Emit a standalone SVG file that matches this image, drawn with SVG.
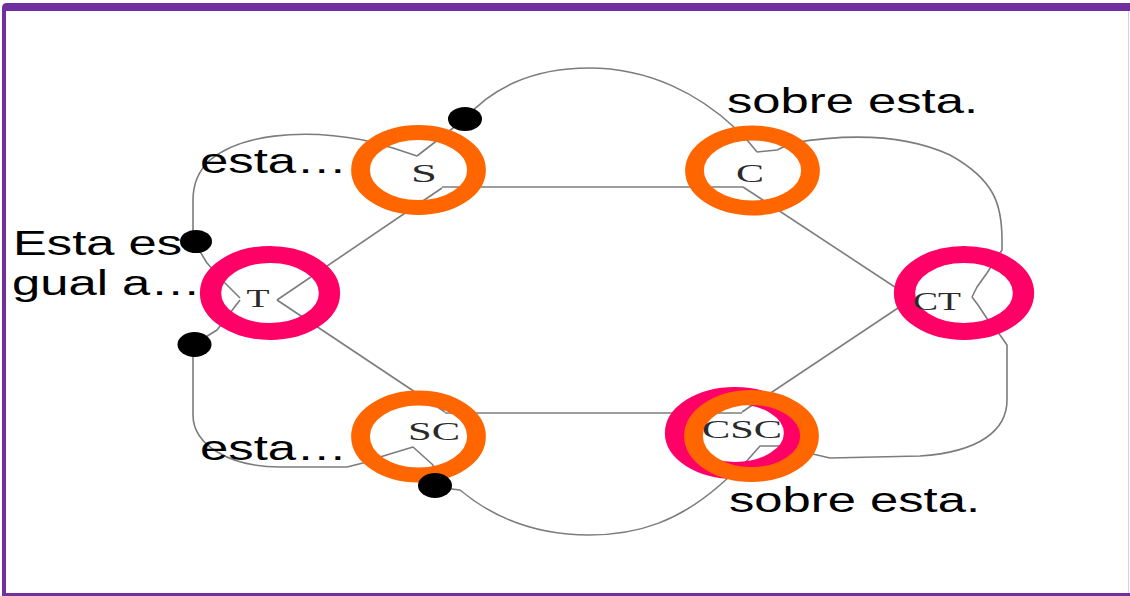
<svg xmlns="http://www.w3.org/2000/svg" width="1130" height="596" viewBox="0 0 1130 596">
  <style>
    .edge { fill: none; stroke: #7c7c7c; stroke-width: 1.6; stroke-linejoin: round; }
    .ring-o { fill: none; stroke: #FF6600; stroke-width: 15; }
    .ring-p { fill: none; stroke: #FF0066; stroke-width: 17; }
    .lbl { font-family: "Liberation Serif", "Times New Roman", serif; font-size: 26px; fill: #2a2a2a; text-anchor: middle; }
    .note { font-family: "Liberation Sans", Arial, sans-serif; font-size: 35px; fill: #000; }
    .dot { fill: #000; }
  </style>

  <!-- page and frame -->
  <rect x="0" y="0" width="1130" height="596" fill="#ffffff"/>
  <path d="M2,596 V8 Q2,3 7,3 H1130 V11 H6 V593 H1130 V596 Z" fill="#7030A0"/>
  <line x1="1128.5" y1="11" x2="1128.5" y2="593" stroke="#dccbe8" stroke-width="1"/>

  <!-- connectors -->
  <g id="connectors">
    <!-- inner hexagon -->
    <path class="edge" d="M442,187 L743,187"/>
    <path class="edge" d="M743,187 L910,297"/>
    <path class="edge" d="M910,300 L742,412"/>
    <path class="edge" d="M445,413 L742,413"/>
    <path class="edge" d="M277,300 L445,412"/>
    <path class="edge" d="M277,300 L442,188"/>
    <!-- outer loops -->
    <path class="edge" d="M417,156 L393,148 L363,140 C300,128 240,135 210,160 C197,172 193,185 193,200 L193,240 L207,263 L222,280 L240,298"/>
    <path class="edge" d="M240,300 L217,330 L193,345 L193,415 C193,445 230,467 280,467 L347,467 L363,463 L380,457 L413,447 L433,465 L435,487"/>
    <path class="edge" d="M417,156 L466,118 C490,90 530,68 589,68 C650,68 700,95 735,128 L747,140 L757,152"/>
    <path class="edge" d="M757,152 L777,150 L792,143 C840,135 900,132 950,155 C995,180 1002,205 1002,240 L1002,250 L987,273 L977,287 L972,297"/>
    <path class="edge" d="M972,297 L978,305 L988,320 L1000,335 L1007,345 L1007,400 C1007,430 980,452 920,456 L830,458 L817,455 L780,446 L760,446 L745,463 L720,485"/>
    <path class="edge" d="M720,485 C680,520 640,535 589,535 C530,535 490,515 460,490 L435,487"/>
  </g>

  <!-- nodes -->
  <g id="node-S">
    <ellipse class="ring-o" cx="0" cy="0" rx="46.4" ry="37.5" transform="translate(418.5,170) scale(1.25,1)"/>
    <text class="lbl" x="424" y="182" textLength="26" lengthAdjust="spacingAndGlyphs">S</text>
  </g>
  <g id="node-C">
    <ellipse class="ring-o" cx="0" cy="0" rx="46.4" ry="37.5" transform="translate(752.5,170.5) scale(1.25,1)"/>
    <text class="lbl" x="750" y="182" textLength="28" lengthAdjust="spacingAndGlyphs">C</text>
  </g>
  <g id="node-T">
    <ellipse class="ring-p" cx="0" cy="0" rx="47.6" ry="38.5" transform="translate(270,293) scale(1.25,1)"/>
    <text class="lbl" x="258" y="307" textLength="23" lengthAdjust="spacingAndGlyphs">T</text>
  </g>
  <g id="node-CT">
    <ellipse class="ring-p" cx="0" cy="0" rx="47.6" ry="38.5" transform="translate(964,293) scale(1.25,1)"/>
    <text class="lbl" x="937" y="310" textLength="48" lengthAdjust="spacingAndGlyphs">CT</text>
  </g>
  <g id="node-SC">
    <ellipse class="ring-o" cx="0" cy="0" rx="46.4" ry="38.5" transform="translate(418.5,436.5) scale(1.25,1)"/>
    <text class="lbl" x="434" y="440" textLength="52" lengthAdjust="spacingAndGlyphs">SC</text>
  </g>
  <g id="node-CSC">
    <ellipse class="ring-p" cx="0" cy="0" rx="47.6" ry="37.5" transform="translate(735,433) scale(1.25,1)"/>
    <ellipse class="ring-o" cx="0" cy="0" rx="46.4" ry="38.5" transform="translate(751.5,436) scale(1.25,1)"/>
    <text class="lbl" x="742" y="438" textLength="80" lengthAdjust="spacingAndGlyphs">CSC</text>
  </g>

  <!-- annotations -->
  <g id="notes">
    <text class="note" x="200" y="173" textLength="147" lengthAdjust="spacingAndGlyphs">esta…</text>
    <text class="note" x="13" y="255" textLength="169" lengthAdjust="spacingAndGlyphs">Esta es</text>
    <text class="note" x="12" y="295" textLength="189" lengthAdjust="spacingAndGlyphs">gual a…</text>
    <text class="note" x="200" y="460" textLength="147" lengthAdjust="spacingAndGlyphs">esta…</text>
    <text class="note" x="727" y="113" textLength="251" lengthAdjust="spacingAndGlyphs">sobre esta.</text>
    <text class="note" x="729" y="512" textLength="251" lengthAdjust="spacingAndGlyphs">sobre esta.</text>
  </g>

  <!-- junction dots on the outer loops -->
  <g id="connector-dots">
    <ellipse class="dot" cx="465" cy="119" rx="17" ry="12"/>
    <ellipse class="dot" cx="196" cy="241.5" rx="16" ry="11.5"/>
    <ellipse class="dot" cx="194.5" cy="344.5" rx="17" ry="12.5"/>
    <ellipse class="dot" cx="435" cy="485.5" rx="17" ry="12.5"/>
  </g>
</svg>
